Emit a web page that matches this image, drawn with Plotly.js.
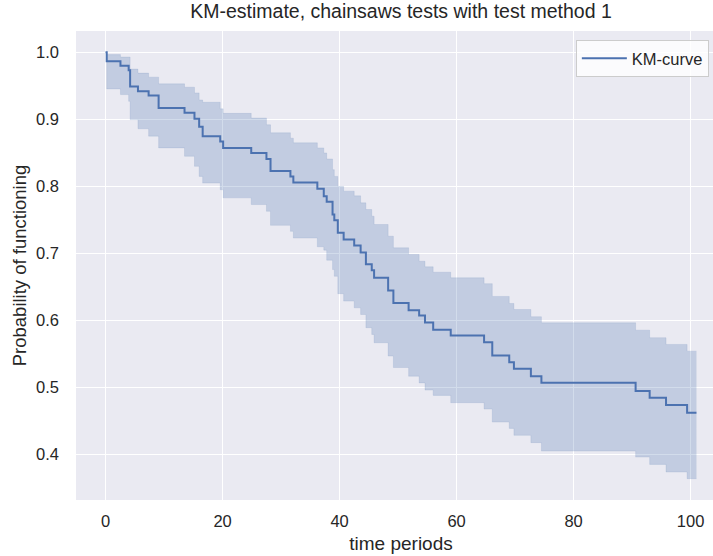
<!DOCTYPE html>
<html>
<head>
<meta charset="utf-8">
<script src="https://cdn.plot.ly/plotly-3.0.1.min.js"></script>
<style>
  html, body { margin: 0; padding: 0; overflow: hidden; background: #ffffff; }
  #chart { width: 726px; height: 556px; }
</style>
</head>
<body>
<div id="chart"></div>
<script>
// Kaplan-Meier estimate (step function, post) with confidence interval
const timePeriods = [0, 0.2, 2.55, 3.95, 4.2, 5.54, 7.36, 9.07, 13.5, 15.2, 16.0, 16.6, 19.6, 20.1,
  24.9, 27.5, 28.2, 31.6, 32.1, 36.2, 37.3, 37.8, 38.8, 39.1, 39.7, 40.7, 42.5, 43.6, 44.5, 45.5,
  45.9, 48.3, 49.2, 51.8, 53.6, 54.6, 56.0, 59.0, 64.7, 66.1, 69.0, 69.8, 72.7, 74.5, 90.6, 93.0,
  95.8, 99.4, 101.0];
const kmSurvival = [1.0, 0.9866, 0.980, 0.9732, 0.949, 0.942, 0.9355, 0.917, 0.910, 0.901, 0.889, 0.875, 0.867, 0.8575,
  0.850, 0.841, 0.823, 0.815, 0.806, 0.7964, 0.7854, 0.777, 0.758, 0.7495, 0.731, 0.721, 0.712, 0.7015, 0.684, 0.675,
  0.664, 0.645, 0.626, 0.6155, 0.6076, 0.5972, 0.5862, 0.5778, 0.5678, 0.548, 0.538, 0.528, 0.5171, 0.5073, 0.4948, 0.485,
  0.474, 0.4626, 0.4626];
const ciLower = [1.0, 0.9454, 0.937, 0.927, 0.8997, 0.886, 0.875, 0.8575, 0.845, 0.830, 0.815, 0.805, 0.795, 0.783,
  0.773, 0.763, 0.742, 0.733, 0.723, 0.710, 0.705, 0.690, 0.676, 0.666, 0.640, 0.629, 0.619, 0.609, 0.5893, 0.5793,
  0.5669, 0.547, 0.530, 0.517, 0.507, 0.4963, 0.4884, 0.4775, 0.468, 0.4486, 0.4392, 0.4288, 0.4179, 0.4054, 0.3964, 0.3855,
  0.3741, 0.3642, 0.3642];
const ciUpper = [1.0, 0.9966, 0.993, 0.993, 0.975, 0.969, 0.963, 0.953, 0.948, 0.9395, 0.929, 0.9255, 0.9157, 0.909,
  0.902, 0.892, 0.880, 0.872, 0.865, 0.8575, 0.850, 0.841, 0.825, 0.815, 0.800, 0.793, 0.786, 0.7755, 0.7656, 0.7556,
  0.7432, 0.7258, 0.7085, 0.6985, 0.6885, 0.6802, 0.6721, 0.6638, 0.655, 0.636, 0.6255, 0.6165, 0.6057, 0.5967, 0.5857, 0.5744,
  0.5644, 0.5544, 0.5544];
const xTickVals = [0, 20, 40, 60, 80, 100];
const yTickVals = [0.4, 0.5, 0.6, 0.7, 0.8, 0.9, 1.0];
const yTickText = ['0.4', '0.5', '0.6', '0.7', '0.8', '0.9', '1.0'];

const blue = '#4c72b0';
const textColor = '#262626';
const fontFam = 'Liberation Sans, Arial, sans-serif';

const traces = [
  {
    x: timePeriods, y: ciLower, type: 'scatter', mode: 'lines',
    line: { shape: 'hv', width: 1, color: 'rgba(76,114,176,0.12)' },
    showlegend: false, hoverinfo: 'skip'
  },
  {
    x: timePeriods, y: ciUpper, type: 'scatter', mode: 'lines',
    line: { shape: 'hv', width: 1, color: 'rgba(76,114,176,0.12)' },
    fill: 'tonexty', fillcolor: 'rgba(76,114,176,0.25)',
    showlegend: false, hoverinfo: 'skip'
  },
  {
    x: timePeriods, y: kmSurvival, type: 'scatter', mode: 'lines',
    name: 'KM-curve',
    line: { shape: 'hv', width: 2, color: blue }
  }
];

const layout = {
  width: 726, height: 556,
  margin: { l: 76, r: 0, t: 31, b: 56, pad: 0 },
  paper_bgcolor: '#ffffff',
  plot_bgcolor: '#eaeaf2',
  font: { family: fontFam, color: textColor, size: 16.5 },
  title: {
    text: 'KM-estimate, chainsaws tests with test method 1',
    font: { family: fontFam, size: 19.5, color: textColor },
    x: 0.5, xref: 'paper', xanchor: 'center',
    y: 1, yref: 'container', yanchor: 'top', pad: { t: 4 }
  },
  xaxis: {
    range: [-5.05, 106.05],
    tickvals: xTickVals,
    ticks: '', showline: false, zeroline: false,
    gridcolor: '#ffffff', gridwidth: 1.2,
    tickfont: { size: 16.5, color: textColor },
    ticklabelstandoff: 9,
    title: { text: 'time periods', font: { size: 19, color: textColor }, standoff: 8 }
  },
  yaxis: {
    range: [0.3324, 1.0318],
    tickvals: yTickVals, ticktext: yTickText,
    ticks: '', showline: false, zeroline: false,
    gridcolor: '#ffffff', gridwidth: 1.2,
    tickfont: { size: 16.5, color: textColor },
    ticklabelstandoff: 16,
    title: { text: 'Probability of functioning', font: { size: 18.5, color: textColor }, standoff: 4 }
  },
  legend: {
    x: 0.769, xanchor: 'left', y: 0.981, yanchor: 'top',
    bgcolor: 'rgba(255,255,255,0.8)', bordercolor: '#cccccc', borderwidth: 1,
    itemwidth: 45,
    font: { size: 16.5, color: textColor }
  },
  showlegend: true
};

Plotly.newPlot('chart', traces, layout, { displayModeBar: false, staticPlot: true });
</script>
</body>
</html>
